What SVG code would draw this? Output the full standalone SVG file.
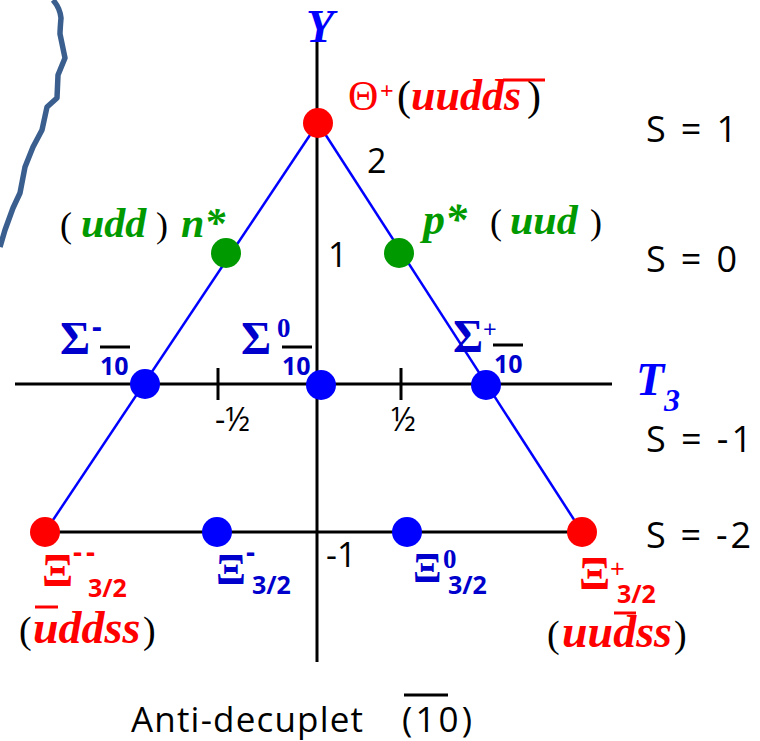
<svg xmlns="http://www.w3.org/2000/svg" width="760" height="741" viewBox="0 0 760 741">
<style>
.ax{stroke:#000;stroke-width:3;fill:none}
.tri{stroke:#0000ff;stroke-width:2.5;fill:none}
.ser{font-family:"Liberation Serif",serif}
.bi{font-weight:bold;font-style:italic}
.b{font-weight:bold}
.sans{font-family:"Open Sans","DejaVu Sans",sans-serif}
.red{fill:#ff0000}
.blu{fill:#0000cc}
.grn{fill:#009a00}
.ol{stroke:#000;stroke-width:3}
</style>
<rect width="760" height="741" fill="#fff"/>
<path d="M53,0 Q60,8 61,18 Q60,30 60,34 L65,58 L58,75 L57,98 L47,107 L42,130 L33,147 L25,167 L20,193 L13,208 L5,230 L0,247" stroke="#3a5f8f" stroke-width="5.5" fill="none" stroke-linejoin="round"/>
<g id="connectors">
<line class="ax" x1="317" y1="42" x2="317" y2="662"/>
<line class="ax" x1="15" y1="384" x2="612" y2="384"/>
<line class="ax" x1="45" y1="532" x2="582" y2="532"/>
<line class="ax" x1="218" y1="368" x2="218" y2="400"/>
<line class="ax" x1="401" y1="368" x2="401" y2="400"/>
<line class="tri" x1="318" y1="123" x2="45" y2="532"/>
<line class="tri" x1="318" y1="123" x2="582" y2="532"/>
</g>
<g id="axis-labels">
<text class="ser bi" x="306" y="42" font-size="46" fill="#0000ff">Y</text>
<text class="ser bi" x="636" y="395" font-size="46" fill="#0000ff">T<tspan font-size="32" dy="16">3</tspan></text>
<text class="sans" x="367" y="173" font-size="34">2</text>
<text class="sans" x="328" y="267" font-size="34">1</text>
<text class="sans" x="326" y="567" font-size="34">-1</text>
<text class="sans" x="215" y="431" font-size="32">-½</text>
<text class="sans" x="391" y="431" font-size="32">½</text>
<text class="sans" x="646" y="142" font-size="36" textLength="91">S = 1</text>
<text class="sans" x="646" y="272" font-size="36" textLength="91">S = 0</text>
<text class="sans" x="646" y="452" font-size="36" textLength="106">S = -1</text>
<text class="sans" x="646" y="548" font-size="36" textLength="105">S = -2</text>
</g>
<g id="theta">
<circle cx="318" cy="123" r="15" fill="#ff0000"/>
<text class="ser" y="110" font-size="42"><tspan x="348" class="red">Θ</tspan><tspan x="380" y="98" font-size="24" class="red b">+</tspan><tspan x="397" y="110">(</tspan><tspan x="411" class="red bi" font-size="44">uudds</tspan><tspan x="527">)</tspan></text>
<line x1="503" y1="80" x2="545" y2="80" stroke="#ff0000" stroke-width="3"/>
</g>
<g id="nstar">
<circle cx="226" cy="253" r="15" fill="#009a00"/>
<text class="ser" y="237" font-size="36"><tspan x="60">(</tspan><tspan x="81" class="grn bi" font-size="42">udd</tspan><tspan x="156">)</tspan><tspan x="181" class="grn bi" font-size="42">n*</tspan></text>
</g>
<g id="pstar">
<circle cx="399" cy="253" r="15" fill="#009a00"/>
<text class="ser" y="234" font-size="36"><tspan x="423" class="grn bi" font-size="44">p*</tspan><tspan x="490">(</tspan><tspan x="510" class="grn bi" font-size="42">uud</tspan><tspan x="590">)</tspan></text>
</g>
<g id="sigma-minus">
<circle cx="145" cy="384" r="15" fill="#0000ff"/>
<text class="ser b blu" x="60" y="354" font-size="46">Σ</text>
<text class="sans b blu" x="92" y="337" font-size="30">-</text>
<line class="ol" x1="100" y1="347" x2="130" y2="347"/>
<text class="sans b blu" x="100" y="375" font-size="25">10</text>
</g>
<g id="sigma-zero">
<circle cx="321" cy="385" r="15" fill="#0000ff"/>
<text class="ser b blu" x="241" y="354" font-size="46">Σ</text>
<text class="ser b blu" x="277" y="337" font-size="27">0</text>
<line class="ol" x1="282" y1="347" x2="312" y2="347"/>
<text class="sans b blu" x="282" y="375" font-size="25">10</text>
</g>
<g id="sigma-plus">
<circle cx="486" cy="385" r="15" fill="#0000ff"/>
<text class="ser b blu" x="453" y="352" font-size="46">Σ</text>
<text class="sans blu" x="483" y="338" font-size="24">+</text>
<line class="ol" x1="493" y1="345" x2="523" y2="345"/>
<text class="sans b blu" x="494" y="373" font-size="25">10</text>
</g>
<g id="xi-mm">
<circle cx="45" cy="532" r="15" fill="#ff0000"/>
<text class="ser b red" x="42" y="586" font-size="46">Ξ</text>
<text class="sans b red" x="73" y="562" font-size="28" letter-spacing="4">--</text>
<text class="sans b red" x="88" y="597" font-size="25">3/2</text>
<text class="ser" y="643" font-size="38"><tspan x="19">(</tspan><tspan x="33" class="red bi" font-size="46">uddss</tspan><tspan x="143">)</tspan></text>
<line x1="35" y1="607" x2="58" y2="607" stroke="#ff0000" stroke-width="3"/>
</g>
<g id="xi-m">
<circle cx="217" cy="532" r="15" fill="#0000ff"/>
<text class="ser b blu" x="216" y="584" font-size="44">Ξ</text>
<text class="sans b blu" x="246" y="562" font-size="28">-</text>
<text class="sans b blu" x="252" y="594" font-size="25">3/2</text>
</g>
<g id="xi-zero">
<circle cx="407" cy="532" r="15" fill="#0000ff"/>
<text class="ser b blu" x="413" y="582" font-size="42">Ξ</text>
<text class="ser b blu" x="443" y="568" font-size="27">0</text>
<text class="sans b blu" x="448" y="594" font-size="25">3/2</text>
</g>
<g id="xi-plus">
<circle cx="582" cy="532" r="15" fill="#ff0000"/>
<text class="ser b red" x="579" y="589" font-size="46">Ξ</text>
<text class="sans red" x="610" y="578" font-size="26">+</text>
<text class="sans b red" x="617" y="603" font-size="25">3/2</text>
<text class="ser" y="647" font-size="38"><tspan x="547">(</tspan><tspan x="562" class="red bi" font-size="46">uudss</tspan><tspan x="674">)</tspan></text>
<line x1="614" y1="613" x2="636" y2="613" stroke="#ff0000" stroke-width="3"/>
</g>
<g id="caption">
<text class="sans" x="131" y="732" font-size="35" textLength="232">Anti-decuplet</text>
<text class="sans" x="402" y="732" font-size="35" textLength="70">(10)</text>
<line x1="404" y1="695" x2="448" y2="695" stroke="#000" stroke-width="3"/>
</g>
</svg>
